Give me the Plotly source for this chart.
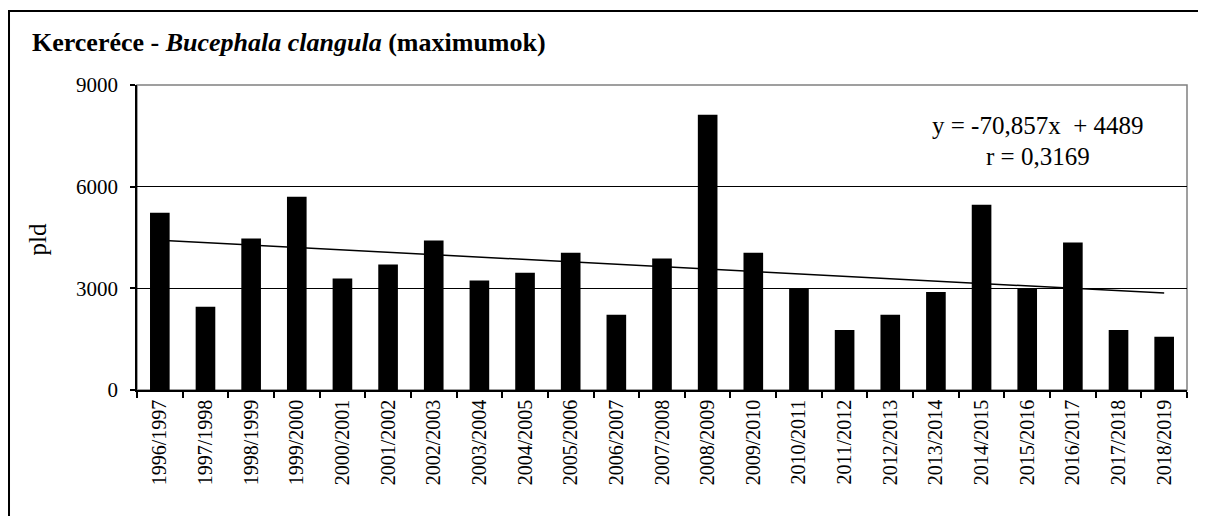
"""
Kercerece (Bucephala clangula) seasonal maxima - bar chart with linear trend
"""

import plotly.graph_objects as go
import numpy as np

seasons = [f"{y}/{y + 1}" for y in range(1996, 2019)]
maxima = [5230, 2460, 4470, 5700, 3290, 3700, 4410, 3230, 3460, 4050, 2220, 3880,
          8120, 4050, 2990, 1770, 2220, 2890, 5470, 2990, 4350, 1770, 1570]
y_ticks = [0, 3000, 6000, 9000]

# trend line as printed on the chart
trend_slope = -70.857
trend_intercept = 4489
trend_r = "0,3169"

FONT = "Liberation Serif"

x_idx = np.arange(1, len(seasons) + 1)
trend = trend_slope * x_idx + trend_intercept

fig = go.Figure()

fig.add_trace(go.Bar(
    x=seasons,
    y=maxima,
    marker=dict(color="black", line=dict(width=0)),
    hovertemplate="<b>%{x}</b><br>%{y} pld<extra></extra>"
))

fig.add_trace(go.Scatter(
    x=seasons,
    y=trend,
    mode="lines",
    line=dict(color="black", width=1.5),
    hoverinfo="skip"
))

# plot area frame (grey top/right) and outer chart border
fig.add_shape(type="rect", xref="paper", yref="paper", x0=0, x1=1, y0=0, y1=1,
              line=dict(color="#808080", width=1.5), layer="between")
fig.add_shape(type="rect", xref="paper", yref="paper", x0=-0.1219, x1=1.2, y0=-0.6, y1=1.2426,
              line=dict(color="black", width=2))

# trend equation, two centred lines
fig.add_annotation(
    text="y = -70,857x\u00a0\u00a0+ 4489",
    xref="paper", yref="paper", x=0.858, y=0.866,
    showarrow=False, xanchor="center", yanchor="middle",
    font=dict(family=FONT, size=25, color="black")
)
fig.add_annotation(
    text="r = " + trend_r,
    xref="paper", yref="paper", x=0.858, y=0.767,
    showarrow=False, xanchor="center", yanchor="middle",
    font=dict(family=FONT, size=25, color="black")
)

fig.add_annotation(
    text="pld", textangle=-90,
    xref="paper", yref="paper", x=-0.0948, y=0.495,
    showarrow=False, xanchor="center", yanchor="middle",
    font=dict(family=FONT, size=25, color="black")
)

fig.update_layout(
    width=1206,
    height=516,
    margin=dict(l=129, r=27, t=77, b=134),
    showlegend=False,
    bargap=0.57,
    plot_bgcolor="white",
    paper_bgcolor="white",
    font=dict(family=FONT, size=20, color="black"),
    title=dict(
        text="<b>Kerceréce - <i>Bucephala clangula</i> (maximumok)</b>",
        xref="container", yref="container",
        x=0.0199, xanchor="left", y=0.934, yanchor="middle",
        font=dict(family=FONT, size=26, color="black")
    ),
    xaxis=dict(
        type="category",
        tickangle=-90,
        showline=True, linecolor="black", linewidth=1.5,
        ticks="outside", tickson="boundaries", ticklen=6, tickcolor="black", tickwidth=1.5,
        showgrid=False,
        tickfont=dict(family=FONT, size=20)
    ),
    yaxis=dict(
        range=[0, 9000],
        tickvals=y_ticks,
        showline=True, linecolor="black", linewidth=1.5,
        ticks="outside", ticklen=5, tickcolor="black", tickwidth=1.5,
        ticklabelstandoff=8,
        showgrid=True, gridcolor="black", gridwidth=1.2,
        zeroline=False,
        tickfont=dict(family=FONT, size=21)
    )
)

fig.write_html("out.html")
